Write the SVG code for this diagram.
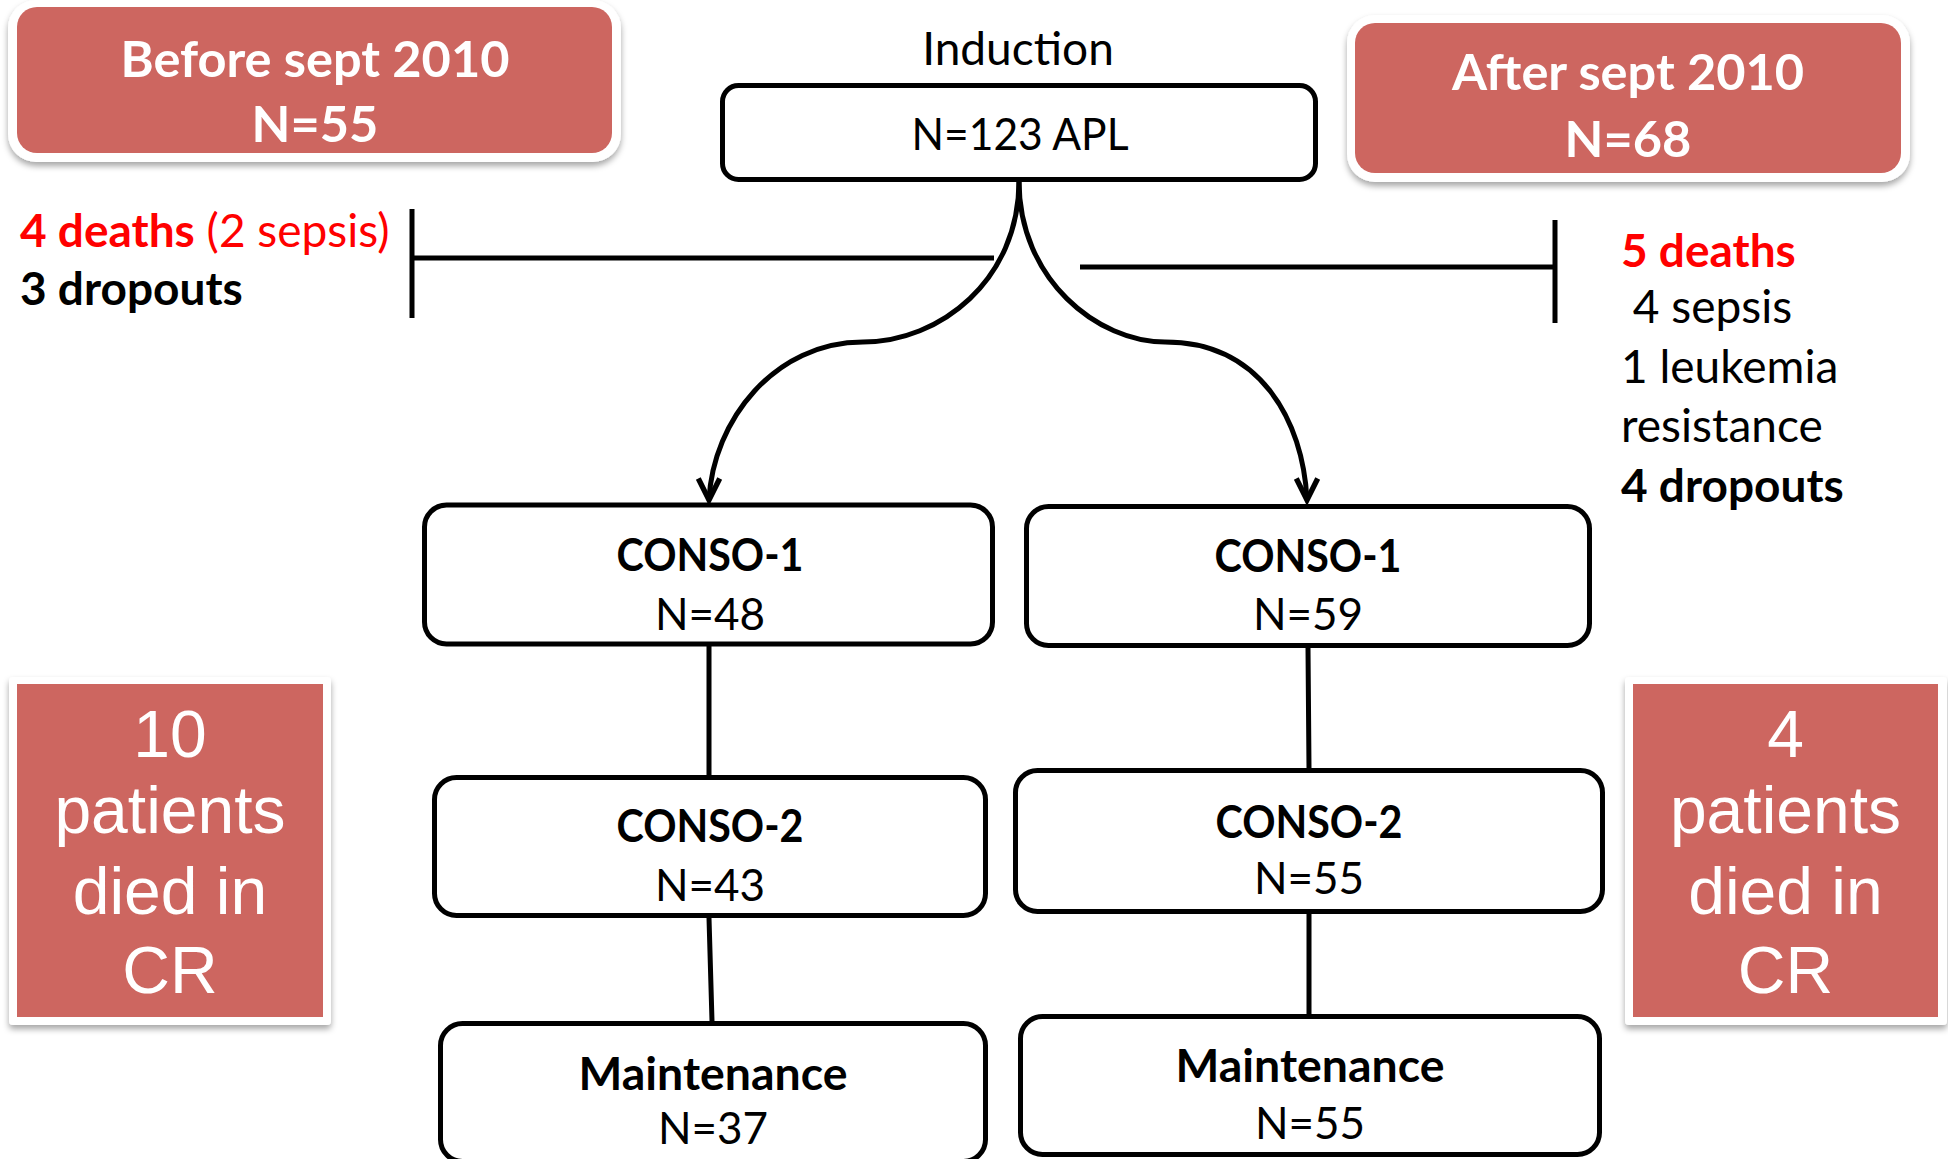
<svg xmlns="http://www.w3.org/2000/svg" width="1948" height="1159" viewBox="0 0 1948 1159">
<defs>
<filter id="sh" x="-10%" y="-10%" width="120%" height="130%">
<feDropShadow dx="0" dy="4" stdDeviation="3" flood-color="#000" flood-opacity="0.35"/>
</filter>
<marker id="arr" markerUnits="userSpaceOnUse" markerWidth="30" markerHeight="30" refX="0" refY="0" viewBox="-24 -14 28 28" orient="90" overflow="visible">
<path d="M-20,-10 L0,0 L-20,10" fill="none" stroke="#000" stroke-width="5" stroke-linejoin="miter"/>
</marker>
</defs>
<style>
.frame{fill:#fff;filter:url(#sh)}
.red{fill:#cd6660}
.box{fill:#fff;stroke:#000;stroke-width:5}
.ln{fill:none;stroke:#000;stroke-width:5}
.c{font-family:Lato,"Open Sans","Liberation Sans",sans-serif;font-size:46px;fill:#000}
.n{font-size:44px}
.b{font-weight:bold}
.mid{text-anchor:middle}
.hd{font-family:Lato,"Open Sans","Liberation Sans",sans-serif;font-size:50.5px;font-weight:bold;fill:#fff;text-anchor:middle}
.ar{font-family:"Liberation Sans",Arial,sans-serif;font-size:66px;fill:#fff;text-anchor:middle}
.rd{fill:#ff0000}
</style>
<rect width="1948" height="1159" fill="#fff"/>

<g id="before">
<rect class="frame" x="8" y="0" width="613" height="162" rx="28"/>
<rect class="red" x="17" y="7" width="595" height="146" rx="20"/>
<text class="hd" x="315" y="77">Before sept 2010</text>
<text class="hd" x="315" y="142">N=55</text>
</g>

<g id="after">
<rect class="frame" x="1347" y="15" width="563" height="167" rx="28"/>
<rect class="red" x="1355" y="23" width="546" height="150" rx="20"/>
<text class="hd" x="1628" y="90">After sept 2010</text>
<text class="hd" x="1628" y="157">N=68</text>
</g>

<g id="induction">
<text class="c mid" x="1018" y="65">Induction</text>
<rect class="box" x="722.5" y="85.5" width="593" height="94" rx="16"/>
<text class="c n mid" x="1020" y="150" textLength="217" lengthAdjust="spacingAndGlyphs">N=123 APL</text>
</g>

<g id="left-losses">
<text class="c" x="20" y="247"><tspan class="b rd">4 deaths</tspan><tspan class="rd" fill="#f01e0a"> (2 sepsis)</tspan></text>
<text class="c b" x="20" y="305">3 dropouts</text>
</g>

<g id="right-losses">
<text class="c b rd" x="1621" y="267">5 deaths</text>
<text class="c" x="1621" y="323" xml:space="preserve"> 4 sepsis</text>
<text class="c" x="1621" y="383">1 leukemia</text>
<text class="c" x="1621" y="442">resistance</text>
<text class="c b" x="1621" y="502">4 dropouts</text>
</g>

<g id="conso1-left">
<rect class="box" x="424.5" y="505" width="568" height="139" rx="22"/>
<text class="c b mid" x="710" y="571" textLength="187" lengthAdjust="spacingAndGlyphs">CONSO-1</text>
<text class="c n mid" x="710" y="630">N=48</text>
</g>
<g id="conso2-left">
<rect class="box" x="434.5" y="777.5" width="551" height="138" rx="22"/>
<text class="c b mid" x="710" y="842" textLength="187" lengthAdjust="spacingAndGlyphs">CONSO-2</text>
<text class="c n mid" x="710" y="901">N=43</text>
</g>
<g id="maint-left">
<rect class="box" x="440.5" y="1023.5" width="545" height="138" rx="22"/>
<text class="c b mid" x="713" y="1090" textLength="269" lengthAdjust="spacingAndGlyphs">Maintenance</text>
<text class="c n mid" x="713" y="1144">N=37</text>
</g>

<g id="conso1-right">
<rect class="box" x="1026.5" y="506.5" width="563" height="139" rx="22"/>
<text class="c b mid" x="1308" y="572" textLength="187" lengthAdjust="spacingAndGlyphs">CONSO-1</text>
<text class="c n mid" x="1308" y="630">N=59</text>
</g>
<g id="conso2-right">
<rect class="box" x="1015.5" y="770.5" width="587" height="141" rx="22"/>
<text class="c b mid" x="1309" y="838" textLength="187" lengthAdjust="spacingAndGlyphs">CONSO-2</text>
<text class="c n mid" x="1309" y="894">N=55</text>
</g>
<g id="maint-right">
<rect class="box" x="1020.5" y="1016.5" width="579" height="138" rx="22"/>
<text class="c b mid" x="1310" y="1082" textLength="269" lengthAdjust="spacingAndGlyphs">Maintenance</text>
<text class="c n mid" x="1310" y="1139">N=55</text>
</g>

<g id="died-left">
<rect class="frame" x="9" y="677" width="322" height="348" rx="4"/>
<rect class="red" x="17" y="684" width="306" height="333"/>
<text class="ar" x="170" y="757">10</text>
<text class="ar" x="170" y="833">patients</text>
<text class="ar" x="170" y="914">died in</text>
<text class="ar" x="170" y="993">CR</text>
</g>
<g id="died-right">
<rect class="frame" x="1625" y="677" width="322" height="348" rx="4"/>
<rect class="red" x="1633" y="684" width="305" height="333"/>
<text class="ar" x="1785.5" y="757">4</text>
<text class="ar" x="1785.5" y="833">patients</text>
<text class="ar" x="1785.5" y="914">died in</text>
<text class="ar" x="1785.5" y="993">CR</text>
</g>

<g id="connectors">
<path class="ln" d="M1019,181 C1019,280 940,342 863,342 C775,342 713,420 709,500" marker-end="url(#arr)"/>
<path class="ln" d="M1019,181 C1019,280 1098,342 1165,342 C1260,342 1303,420 1307,500" marker-end="url(#arr)"/>
<path class="ln" d="M412,209 V318 M412,258 H994"/>
<path class="ln" d="M1080,267 H1555 M1555,220 V323"/>
<path class="ln" d="M709,646 V775 M709,918 L712,1021"/>
<path class="ln" d="M1308,648 L1309,768 M1309,914 V1014"/>
</g>
</svg>
